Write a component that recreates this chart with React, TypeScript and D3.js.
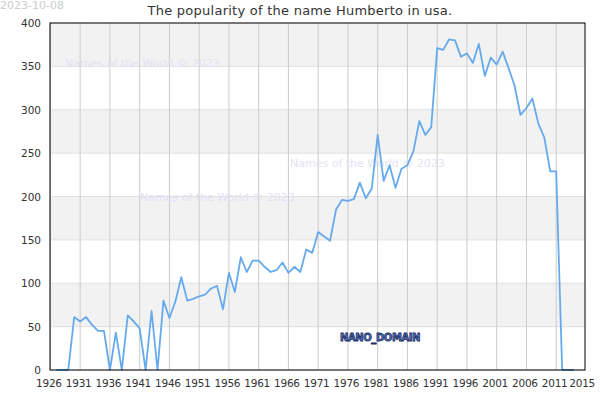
import * as React from "react";
import * as d3 from "d3";

const years: number[] = d3.range(1927, 2015);
// popularity per year, 1927..2014
const counts: number[] = [
  0, 0, 0, 61, 56, 61, 52, 45, 45, 0,
  43, 0, 63, 56, 48, 0, 68, 0, 80, 60,
  79, 107, 80, 82, 85, 87, 94, 97, 70, 112,
  90, 130, 113, 126, 126, 119, 113, 115, 124, 112,
  119, 113, 139, 135, 159, 154, 149, 185, 196, 195,
  197, 216, 198, 209, 271, 218, 236, 210, 232, 236,
  252, 287, 271, 280, 371, 369, 381, 380, 361, 365,
  354, 376, 339, 360, 352, 367, 348, 328, 294, 302,
  313, 284, 268, 229, 229, 0, 0, 0,
];
const xTicks: number[] = [1926, 1931, 1936, 1941, 1946, 1951, 1956, 1961, 1966, 1971, 1976, 1981, 1986, 1991, 1996, 2001, 2006, 2011];
const xEnd = 2015;
const yTicks: number[] = [0, 50, 100, 150, 200, 250, 300, 350, 400];
const watermarks = [
  { x: 65, y: 67 },
  { x: 140, y: 201 },
  { x: 290, y: 167 },
];

const App: React.FC = () => {
  const width = 600;
  const height = 400;
  const left = 50;
  const right = 585;
  const top = 23;
  const bottom = 370;

  const x = d3.scaleLinear().domain([1926, 2015]).range([50.4, 580]);
  const y = d3.scaleLinear().domain([0, 400]).range([bottom, top]);

  const line = d3
    .line<number>()
    .x((d, i) => x(years[i]))
    .y((d) => y(d));

  const font = "DejaVu Sans, sans-serif";

  return (
    <svg
      width={width}
      height={height}
      style={{ position: "absolute", left: 0, top: 0 }}
      fontFamily={font}
    >
      <rect x={0} y={0} width={width} height={height} fill="#fff" />
      {/* alternating bands */}
      {yTicks.slice(0, -1).map((t, i) =>
        i % 2 === 1 ? (
          <rect
            key={t}
            x={left}
            y={y(t + 50)}
            width={right - left}
            height={y(t) - y(t + 50)}
            fill="#f2f2f2"
          />
        ) : null
      )}
      {yTicks.map((t) => (
        <line key={t} x1={left} x2={right} y1={y(t)} y2={y(t)} stroke="#e0e0e0" />
      ))}
      {xTicks.map((t) => (
        <line key={t} x1={x(t)} x2={x(t)} y1={top} y2={bottom} stroke="#cccccc" />
      ))}
      {watermarks.map((w, i) => (
        <text key={i} x={w.x} y={w.y} fontSize={11} fill="#e2e2f6">
          Names of the World © 2023
        </text>
      ))}
      <path
        d={line(counts) || undefined}
        fill="none"
        stroke="#66aaee"
        strokeWidth={1.8}
        strokeLinejoin="round"
      />
      <rect x={left} y={top} width={right - left} height={bottom - top} fill="none" stroke="#000" />
      {yTicks.map((t) => (
        <text key={t} x={41} y={y(t) + 4} fontSize={10.5} fill="#333" textAnchor="end">
          {t}
        </text>
      ))}
      {xTicks.map((t) => (
        <text
          key={t}
          x={x(t) - 1.5}
          y={387}
          fontSize={10.5}
          letterSpacing={-0.25}
          fill="#333"
          textAnchor="middle"
        >
          {t}
        </text>
      ))}
      <text x={x(xEnd) + 2.2} y={387} fontSize={10.5} letterSpacing={-0.25} fill="#333" textAnchor="middle">
        {xEnd}
      </text>
      <text x={300} y={15} fontSize={13} letterSpacing={0.25} fill="#333" textAnchor="middle">
        The popularity of the name Humberto in usa.
      </text>
      <text x={0} y={9} fontSize={11} fill="#cccccc">
        2023-10-08
      </text>
      <text
        x={380}
        y={341}
        fontSize={10}
        fontWeight="bold"
        letterSpacing={-0.4}
        textAnchor="middle"
        fill="#5577bb"
        stroke="#1c2c66"
        strokeWidth={0.8}
      >
        NANO_DOMAIN
      </text>
    </svg>
  );
};

export default App;
